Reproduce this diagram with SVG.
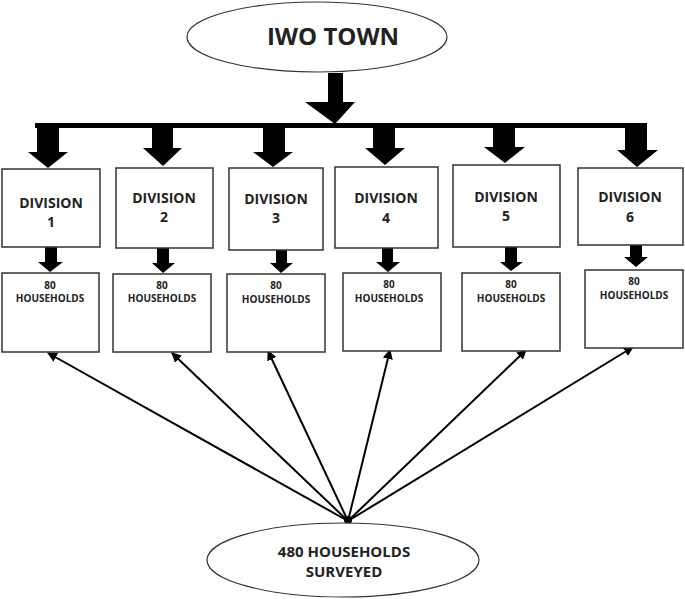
<svg xmlns="http://www.w3.org/2000/svg" width="685" height="599" viewBox="0 0 685 599">
<style>
.box{fill:#fff;stroke:#333;stroke-width:1.5}
.ell{fill:#fff;stroke:#333;stroke-width:1.2}
.t{font-family:"Open Sans","Liberation Sans",sans-serif;font-weight:bold;fill:#222;text-anchor:middle}
.div{font-size:14px}
.hh{font-size:10px}
.blk{fill:#000}
.ln{stroke:#000;stroke-width:2;fill:none;marker-end:url(#ah)}
</style>
<defs>
<marker id="ah" viewBox="0 0 10 10" refX="9" refY="5" markerWidth="5" markerHeight="5" orient="auto" markerUnits="strokeWidth">
<path d="M0,0 L10,5 L0,10 Z" fill="#000"/>
</marker>
</defs>
<rect width="685" height="599" fill="#fff"/>
<g id="connectors">
<polygon class="blk" points="328,73 343,73 343,102 355,102 335,124 305,102 328,102"/>
<rect class="blk" x="35" y="123" width="612" height="5"/>
<polygon class="blk" points="37,127 59,127 59,152 68,152 48,168 28,152 37,152"/>
<polygon class="blk" points="152,127 173,127 173,148 182,148 163,166 143,148 152,148"/>
<polygon class="blk" points="263,127 285,127 285,152 293,152 273,167 253,152 263,152"/>
<polygon class="blk" points="373,127 395,127 395,148 405,148 385,165 365,148 373,148"/>
<polygon class="blk" points="493,127 515,127 515,147 525,147 505,163 484,147 493,147"/>
<polygon class="blk" points="625,127 647,127 647,150 658,150 637,167 617,150 625,150"/>
<polygon class="blk" points="45,247 57,247 57,262 63,262 50,272 38,262 45,262"/>
<polygon class="blk" points="157,248 169,248 169,263 175,263 163,273 152,263 157,263"/>
<polygon class="blk" points="276,250 287,250 287,263 293,263 281,273 270,263 276,263"/>
<polygon class="blk" points="382,248 393,248 393,262 400,262 388,272 376,262 382,262"/>
<polygon class="blk" points="505,247 517,247 517,262 523,262 511,271 500,262 505,262"/>
<polygon class="blk" points="630,245 642,245 642,257 648,257 636,267 624,257 630,257"/>
<line class="ln" x1="348" y1="521" x2="48" y2="353"/>
<line class="ln" x1="348" y1="521" x2="172" y2="353"/>
<line class="ln" x1="348" y1="521" x2="268" y2="351"/>
<line class="ln" x1="348" y1="521" x2="390" y2="350"/>
<line class="ln" x1="348" y1="521" x2="526" y2="350"/>
<line class="ln" x1="348" y1="521" x2="633" y2="347"/>
<circle cx="348" cy="520" r="4" fill="#000"/>
</g>
<g id="iwo-town">
<ellipse class="ell" cx="317" cy="37" rx="130" ry="35"/>
<text class="t" x="333" y="45" font-size="24">IWO TOWN</text>
</g>
<g id="division-1"><rect class="box" x="2" y="169" width="98" height="78"/><text class="t div" x="51" y="208">DIVISION</text><text class="t div" x="51" y="227">1</text></g>
<g id="division-2"><rect class="box" x="116" y="168" width="97" height="80"/><text class="t div" x="164" y="203">DIVISION</text><text class="t div" x="164" y="222">2</text></g>
<g id="division-3"><rect class="box" x="229" y="168" width="94" height="82"/><text class="t div" x="276" y="204">DIVISION</text><text class="t div" x="276" y="223">3</text></g>
<g id="division-4"><rect class="box" x="335" y="167" width="103" height="81"/><text class="t div" x="386" y="203">DIVISION</text><text class="t div" x="386" y="223">4</text></g>
<g id="division-5"><rect class="box" x="453" y="165" width="107" height="82"/><text class="t div" x="506" y="202">DIVISION</text><text class="t div" x="506" y="221">5</text></g>
<g id="division-6"><rect class="box" x="578" y="168" width="105" height="77"/><text class="t div" x="630" y="202">DIVISION</text><text class="t div" x="630" y="222">6</text></g>
<g id="households-1"><rect class="box" x="2" y="273" width="97" height="79"/><text class="t hh" x="50" y="289">80</text><text class="t hh" x="50" y="302">HOUSEHOLDS</text></g>
<g id="households-2"><rect class="box" x="113" y="274" width="98" height="78"/><text class="t hh" x="162" y="289">80</text><text class="t hh" x="162" y="302">HOUSEHOLDS</text></g>
<g id="households-3"><rect class="box" x="227" y="274" width="98" height="78"/><text class="t hh" x="276" y="289">80</text><text class="t hh" x="276" y="303">HOUSEHOLDS</text></g>
<g id="households-4"><rect class="box" x="343" y="273" width="98" height="78"/><text class="t hh" x="389" y="288">80</text><text class="t hh" x="389" y="302">HOUSEHOLDS</text></g>
<g id="households-5"><rect class="box" x="462" y="273" width="98" height="78"/><text class="t hh" x="511" y="288">80</text><text class="t hh" x="511" y="302">HOUSEHOLDS</text></g>
<g id="households-6"><rect class="box" x="585" y="270" width="98" height="78"/><text class="t hh" x="634" y="285">80</text><text class="t hh" x="634" y="299">HOUSEHOLDS</text></g>
<g id="surveyed">
<ellipse class="ell" cx="343" cy="560" rx="136" ry="37"/>
<text class="t" x="344" y="557" font-size="15">480 HOUSEHOLDS</text>
<text class="t" x="344" y="577" font-size="15">SURVEYED</text>
</g>
</svg>
